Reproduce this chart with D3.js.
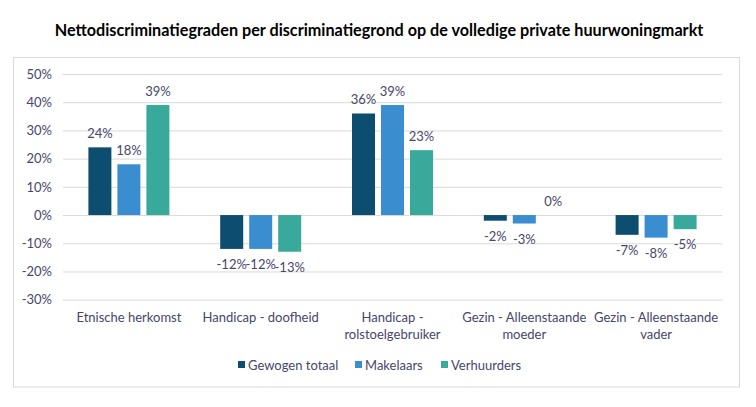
<!DOCTYPE html>
<html><head><meta charset="utf-8">
<script src="https://cdn.jsdelivr.net/npm/d3@7/dist/d3.min.js"></script>
<style>body{margin:0;background:#fff}svg{display:block}</style>
</head><body><svg id="c" width="756" height="407"></svg>
<script>
const categories = [["Etnische herkomst"],["Handicap - doofheid"],["Handicap -","rolstoelgebruiker"],["Gezin - Alleenstaande","moeder"],["Gezin - Alleenstaande","vader"]];
const seriesNames = ["Gewogen totaal","Makelaars","Verhuurders"];
const gewogenTotaal = [24,-12,36,-2,-7];
const makelaars = [18,-12,39,-3,-8];
const verhuurders = [39,-13,23,0,-5];
const yTicks = [50,40,30,20,10,0,-10,-20,-30];
const colors = ["#0d4e70","#3a8ecf","#38a99b"];
const series = [gewogenTotaal, makelaars, verhuurders];

const svg = d3.select("#c");
const font = "Lato, 'Open Sans', sans-serif";
const textCol = "#46466a";

svg.append("rect").attr("x",13.5).attr("y",57.5).attr("width",726).attr("height",329.5)
  .attr("fill","#fff").attr("stroke","#d9d9d9");

svg.append("text").attr("x",379).attr("y",36).attr("text-anchor","middle")
  .attr("font-family",font).attr("font-weight","bold").attr("font-size",16.2).attr("fill","#000")
  .text("Nettodiscriminatiegraden per discriminatiegrond op de volledige private huurwoningmarkt");

const y = d3.scaleLinear().domain([-30,50]).range([299.7,74]);
const x0 = d3.scaleBand().domain(d3.range(categories.length)).range([63,722]);
const x1 = d3.scaleBand().domain(d3.range(3)).range([0,x0.bandwidth()]).paddingInner(0.207).paddingOuter(0.876);

const yAxis = d3.axisLeft(y).tickValues(yTicks).tickSize(-(722-63)).tickFormat(d=>d+"%");
const ga = svg.append("g").attr("transform","translate(63,0)").call(yAxis);
ga.select(".domain").remove();
ga.selectAll(".tick line").attr("stroke","#d9d9d9");
ga.selectAll(".tick text").attr("x",-11).attr("font-family",font).attr("font-size",13).attr("fill",textCol);

const groups = svg.append("g").selectAll("g").data(categories).join("g")
  .attr("transform",(d,i)=>`translate(${x0(i)},0)`);

groups.each(function(cat,ci){
  const g = d3.select(this);
  series.forEach((s,si)=>{
    const v = s[ci];
    g.append("rect").attr("x",x1(si)).attr("width",x1.bandwidth())
      .attr("y",y(Math.max(0,v))).attr("height",Math.abs(y(v)-y(0)))
      .attr("fill",colors[si]);
    g.append("text").attr("x",x1(si)+x1.bandwidth()/2)
      .attr("y", v>=0 ? y(v)-9 : y(v)+20)
      .attr("text-anchor","middle").attr("font-family",font).attr("font-size",13).attr("fill",textCol)
      .text(v+"%");
  });
  const t = g.append("text").attr("text-anchor","middle").attr("font-family",font).attr("font-size",13).attr("fill",textCol);
  cat.forEach((line,li)=>t.append("tspan").attr("x",x0.bandwidth()/2).attr("y",322+li*17).text(line));
});

const legendX = [238,355,441];
const lg = svg.append("g");
seriesNames.forEach((n,i)=>{
  lg.append("rect").attr("x",legendX[i]).attr("y",361).attr("width",7).attr("height",7).attr("fill",colors[i]);
  lg.append("text").attr("x",legendX[i]+10).attr("y",369.5).attr("font-family",font).attr("font-size",13).attr("fill",textCol).text(n);
});
</script></body></html>
